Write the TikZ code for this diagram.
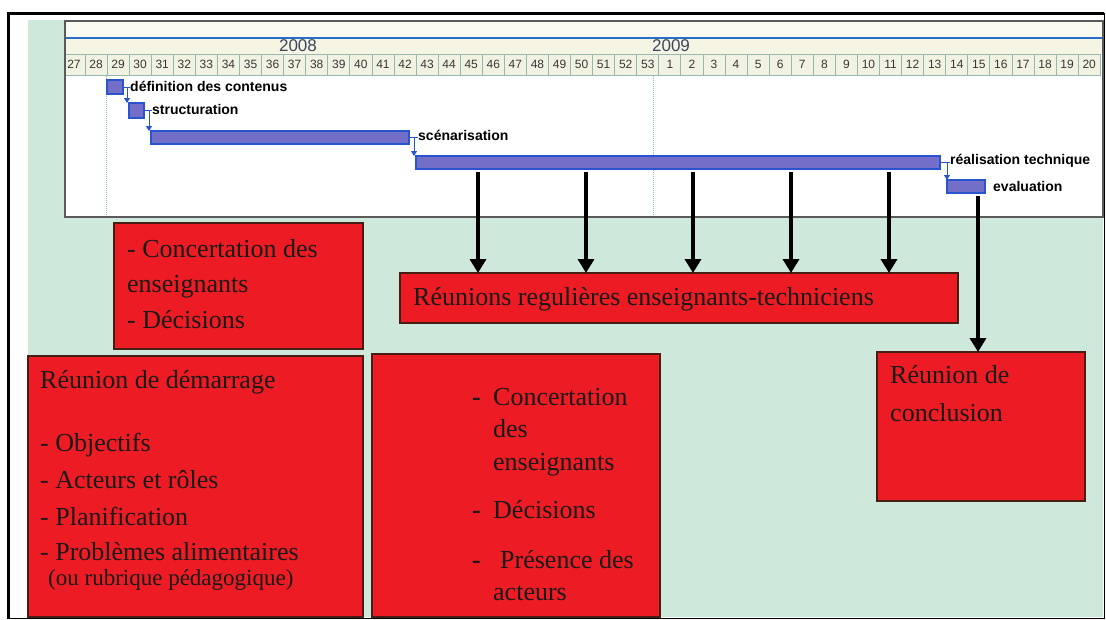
\documentclass[tikz,border=0pt]{standalone}
\usepackage{fontspec}
\setmainfont{Liberation Serif}
\newfontfamily\gsans{Liberation Sans}
\usetikzlibrary{arrows.meta,calc}
\definecolor{bgreen}{RGB}{207,232,220}
\definecolor{rbox}{RGB}{237,28,36}
\definecolor{redge}{RGB}{70,30,20}
\definecolor{barfill}{RGB}{115,110,200}
\definecolor{baredge}{RGB}{40,85,205}
\definecolor{hdrA}{RGB}{251,250,240}
\definecolor{hdrB}{RGB}{246,245,228}
\definecolor{cellfill}{RGB}{242,242,226}
\definecolor{celledge}{RGB}{150,185,175}
\definecolor{yearblue}{RGB}{40,110,200}
\definecolor{panedge}{RGB}{90,90,90}
\definecolor{gridblue}{RGB}{140,180,220}
\definecolor{numgrey}{RGB}{55,55,55}
\definecolor{yeargrey}{RGB}{60,70,95}
\begin{document}
\begin{tikzpicture}[x=1pt,y=-1pt,
 redbox/.style={draw=redge,fill=rbox,line width=1.2pt,inner sep=0pt,outer sep=0pt,anchor=north west},
 bar/.style={draw=baredge,fill=barfill,line width=1.3pt,inner sep=0pt,outer sep=0pt,anchor=north west},
 btxt/.style={anchor=base west,inner sep=0pt,text=black!90,font=\fontsize{26}{30}\selectfont},
 stxt/.style={btxt,font=\fontsize{23}{26}\selectfont},
 glabel/.style={anchor=west,inner sep=0pt,font=\gsans\bfseries\fontsize{14}{16}\selectfont},
 linkline/.style={draw=baredge,line width=1pt},
 link/.style={linkline,-{Triangle[width=6pt,length=5pt]}},
 meet/.style={draw=black,line width=3.5pt,-{Triangle[width=16pt,length=14pt]},shorten <=3pt},
 weeknum/.style={font=\gsans\fontsize{12}{13}\selectfont,text=numgrey,inner sep=0pt},
 yearlbl/.style={font=\gsans\fontsize{17}{18}\selectfont,text=yeargrey,inner sep=0pt}
]
\useasboundingbox (0,0) rectangle (1106,619);
\fill[white] (0,0) rectangle (1106,619);
\fill[bgreen] (28,20) rectangle (1103,617);
% gantt panel
\fill[white] (65,21) rectangle (1103,217);
\fill[hdrA] (65,21) rectangle (1103,38);
\fill[hdrB] (65,38) rectangle (1103,54);
\begin{scope}
\clip (65,21) rectangle (1103,217);
\foreach \i in {0,...,46}{
 \pgfmathsetmacro{\xl}{62.93+22.07*\i}
 \pgfmathtruncatemacro{\wk}{\i<27 ? 27+\i : \i-26}
 \draw[celledge,fill=cellfill,line width=0.8pt] (\xl,54) rectangle ++(22.07,21);
 \node[weeknum] (w\i) at (\xl+11.03,64.5) {\wk};
}
\end{scope}
\draw[yearblue,line width=1.5pt] (65,38) -- (1103,38);
\node[yearlbl] (y2008) at (298,46) {2008};
\node[yearlbl] (y2009) at (671,46) {2009};
\draw[gridblue,densely dotted,line width=1pt] (106,76) -- (106,217);
\draw[gridblue,densely dotted,line width=1pt] (653,76) -- (653,217);
\draw[panedge,line width=1.2pt] (65,217) -- (65,21) -- (1103,21) -- (1103,217) -- cycle;
% bars
\node[bar,minimum width=16pt,minimum height=14pt] (def) at (107,80) {};
\node[bar,minimum width=15pt,minimum height=15pt] (str) at (129,103) {};
\node[bar,minimum width=258pt,minimum height=13pt] (scen) at (151,131) {};
\node[bar,minimum width=524pt,minimum height=13pt] (real) at (416,156) {};
\node[bar,minimum width=38pt,minimum height=13pt] (eval) at (947,180) {};
% labels
\node[glabel] (ldef) at (130,86) {définition des contenus};
\node[glabel] (lstr) at (152,109) {structuration};
\node[glabel] (lscen) at (418,135) {scénarisation};
\node[glabel] (lreal) at (950,161) {réalisation technique};
\node[glabel] (leval) at (993,186) {evaluation};
\draw[linkline] (def.east) -- (ldef.west |- def.east);
\draw[linkline] (str.east) -- (lstr.west |- str.east);
\draw[linkline] (scen.east) -- (lscen.west |- scen.east);
\draw[linkline] (real.east) -- (lreal.west |- real.east);
\coordinate (k1) at ([xshift=-2pt]str.north west);
\coordinate (k2) at ([xshift=-2pt]scen.north west);
\coordinate (k3) at ([xshift=-2pt]real.north west);
\coordinate (k4) at ([xshift=0pt]eval.north west);
\draw[link] (k1 |- def.east) -- (k1);
\draw[link] (k2 |- str.east) -- (k2);
\draw[link] (k3 |- scen.east) -- (k3);
\draw[link] (k4 |- real.east) -- (k4);
% red boxes
\node[redbox,minimum width=249pt,minimum height=126pt] (b1) at (114,223) {};
\node[redbox,minimum width=335pt,minimum height=261pt] (b2) at (28,356) {};
\node[redbox,minimum width=558pt,minimum height=50pt] (reg) at (400,273) {};
\node[redbox,minimum width=288pt,minimum height=263pt] (b4) at (372,354) {};
\node[redbox,minimum width=208pt,minimum height=149pt] (concl) at (877,352) {};
% box texts
\node[btxt] (t11) at (127,257) {- Concertation des};
\node[btxt] (t12) at (127,292) {enseignants};
\node[btxt] (t13) at (127,328) {- Décisions};
\node[btxt] (t21) at (40,388) {Réunion de démarrage};
\node[btxt] (t22) at (40,451) {- Objectifs};
\node[btxt] (t23) at (40,488) {- Acteurs et rôles};
\node[btxt] (t24) at (40,525) {- Planification};
\node[btxt] (t25) at (40,560) {- Problèmes alimentaires};
\node[stxt] (t26) at (48,585) {(ou rubrique pédagogique)};
\node[btxt] (t31) at (413,305) {Réunions regulières enseignants-techniciens};
\node[btxt] (d41) at (472,405) {\textbf{-}};
\node[btxt] (t41) at (493,405) {Concertation};
\node[btxt] (t42) at (493,437) {des};
\node[btxt] (t43) at (493,470) {enseignants};
\node[btxt] (d44) at (472,518) {\textbf{-}};
\node[btxt] (t44) at (493,518) {Décisions};
\node[btxt] (d45) at (472,568) {\textbf{-}};
\node[btxt] (t45) at (500,568) {Présence des};
\node[btxt] (t46) at (493,600) {acteurs};
\node[btxt] (t51) at (890,383) {Réunion de};
\node[btxt] (t52) at (890,421) {conclusion};
% black arrows
\coordinate (a1) at (478,0);
\coordinate (a2) at (586,0);
\coordinate (a3) at (693,0);
\coordinate (a4) at (791,0);
\coordinate (a5) at (889,0);
\coordinate (a6) at (978,0);
\foreach \a in {a1,a2,a3,a4,a5}{
 \draw[meet] (\a |- real.south) -- (\a |- reg.north);
}
\draw[meet] (a6 |- eval.south) -- (a6 |- concl.north);
% outer frame
\draw[black,line width=3pt] (8,619) -- (8,13) -- (1104,13);
\draw[black,line width=1pt] (1104,13) -- (1104,619);
\draw[black,line width=1pt] (8,618) -- (1104,618);
\end{tikzpicture}
\end{document}
